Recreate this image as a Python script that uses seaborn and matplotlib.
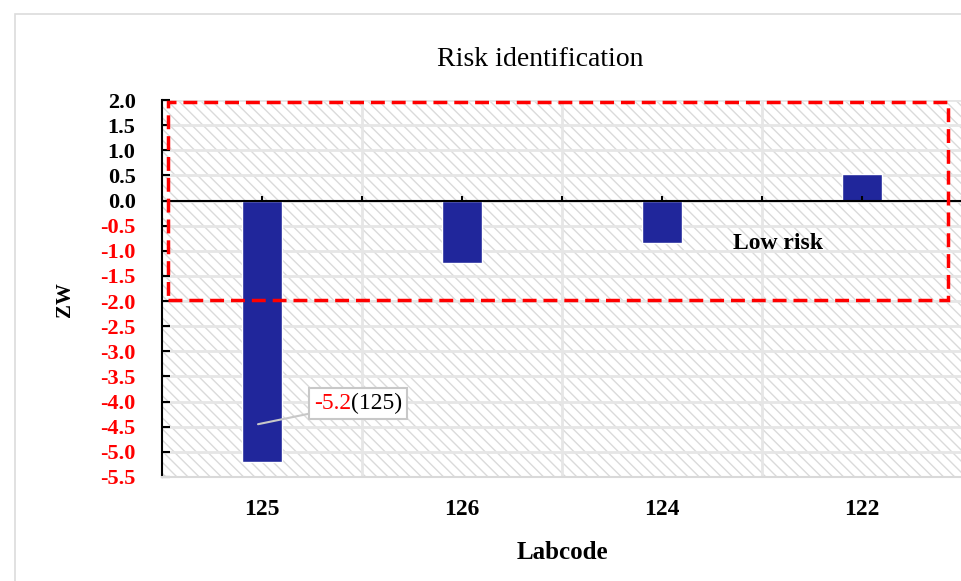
import numpy as np
import pandas as pd
import matplotlib
matplotlib.use("Agg")
import matplotlib.pyplot as plt
from matplotlib.patches import Rectangle
from matplotlib.offsetbox import TextArea, HPacker, AnnotationBbox
import seaborn as sns

# data
labcodes = ["125", "126", "124", "122"]
zw_values = [-5.2, -1.25, -0.85, 0.53]
y_ticks = [2.0, 1.5, 1.0, 0.5, 0.0, -0.5, -1.0, -1.5, -2.0, -2.5,
           -3.0, -3.5, -4.0, -4.5, -5.0, -5.5]
low_risk_limit = 2.0


def plot_risk(df):
    """
    Draws the ZW bar chart with the low risk band and the outlier label.
    """
    sns.set_style("white")
    plt.rcParams["font.family"] = ["Liberation Serif", "DejaVu Serif"]
    plt.rcParams["text.color"] = "black"
    plt.rcParams["axes.labelcolor"] = "black"
    plt.rcParams["xtick.color"] = "black"
    plt.rcParams["ytick.color"] = "black"
    plt.rcParams["hatch.color"] = "#dadada"
    plt.rcParams["hatch.linewidth"] = 1.0

    fig = plt.figure(figsize=(9.61, 5.81), dpi=100)
    ax = fig.add_axes([162 / 961, 1 - 477 / 581, 800 / 961, 377 / 581])

    # hatched background
    ax.add_patch(Rectangle((0, 0), 1, 1, transform=ax.transAxes,
                           facecolor="white", edgecolor="#dadada",
                           hatch="\\\\\\", linewidth=0, zorder=0))

    sns.barplot(data=df, x="Labcode", y="ZW", color="#20269B",
                width=0.2, saturation=1, ax=ax, zorder=3)

    n = len(df)
    ax.set_xlim(-0.5, n - 0.5)
    ax.set_ylim(-5.5, 2.0)

    # grid
    ax.set_yticks(y_ticks)
    ax.set_xticks(np.arange(0.5, n - 0.5), minor=True)
    ax.grid(axis="y", which="major", color="#e6e6e6", linewidth=2, zorder=1)
    ax.grid(axis="x", which="minor", color="#e6e6e6", linewidth=2, zorder=1)
    ax.set_axisbelow(True)

    # zero line with small ticks
    ax.axhline(0, color="black", linewidth=1.5, zorder=4)
    tick_pos = np.arange(-0.5, n, 0.5)
    ax.vlines(tick_pos, 0, 0.09, color="black", linewidth=1.5, zorder=4)

    # spines and tick labels
    for side in ["top", "right"]:
        ax.spines[side].set_visible(False)
    ax.spines["left"].set_color("black")
    ax.spines["left"].set_linewidth(1.5)
    ax.spines["bottom"].set_color("#d9d9d9")
    ax.spines["bottom"].set_linewidth(1.5)

    ax.tick_params(axis="y", which="major", direction="in", length=6,
                   width=1.5, color="black", left=True, labelsize=16, pad=19)
    ax.tick_params(axis="x", which="both", length=0, labelsize=17, pad=16)
    ax.set_yticklabels([f"{t:.1f}" for t in y_ticks], fontweight="bold")
    for lbl, t in zip(ax.get_yticklabels(), y_ticks):
        lbl.set_color("red" if t < 0 else "black")
    for lbl in ax.get_xticklabels():
        lbl.set_fontweight("bold")

    ax.set_xlabel("Labcode", fontsize=18, fontweight="bold")
    ax.xaxis.set_label_coords(0.5, -0.17)
    ax.set_ylabel("ZW", fontsize=15, fontweight="bold")
    ax.yaxis.set_label_coords(-0.109, 0.47)

    # low risk band
    ax.add_patch(Rectangle((-0.47, -low_risk_limit + 0.03), n - 0.1,
                           2 * low_risk_limit - 0.06, fill=False,
                           edgecolor="red", linewidth=2.5,
                           linestyle=(0, (4, 2)), zorder=5, clip_on=False))
    ax.text(2.58, -0.85, "Low risk", fontsize=17, fontweight="bold",
            ha="center", va="center", zorder=6)

    # outlier label
    worst = int(np.argmin(df["ZW"]))
    parts = HPacker(children=[
        TextArea(f"{df['ZW'][worst]:.1f}",
                 textprops=dict(color="red", fontsize=17)),
        TextArea(f"({df['Labcode'][worst]})",
                 textprops=dict(color="black", fontsize=17)),
    ], align="center", pad=0, sep=0)
    ab = AnnotationBbox(parts, (worst - 0.02, -4.45), xybox=(worst + 0.48, -4.04),
                        xycoords="data", boxcoords="data",
                        bboxprops=dict(edgecolor="#c8c8c8", facecolor="white",
                                       linewidth=1.5, boxstyle="square,pad=0.35"),
                        arrowprops=dict(arrowstyle="-", color="#c8c8c8",
                                        linewidth=1.5, shrinkA=0, shrinkB=0),
                        zorder=7)
    ax.add_artist(ab)

    # title and outer frame
    fig.text(540 / 961, 1 - 60 / 581, "Risk identification", fontsize=20,
             ha="center", va="center")
    fig.add_artist(Rectangle((15 / 961, -0.1), 1.0, 1.1 - 14 / 581,
                             transform=fig.transFigure, fill=False,
                             edgecolor="#dcdcdc", linewidth=1.2))

    plt.savefig("out.png", dpi=100)
    plt.close(fig)


df = pd.DataFrame({"Labcode": labcodes, "ZW": zw_values})
plot_risk(df)
